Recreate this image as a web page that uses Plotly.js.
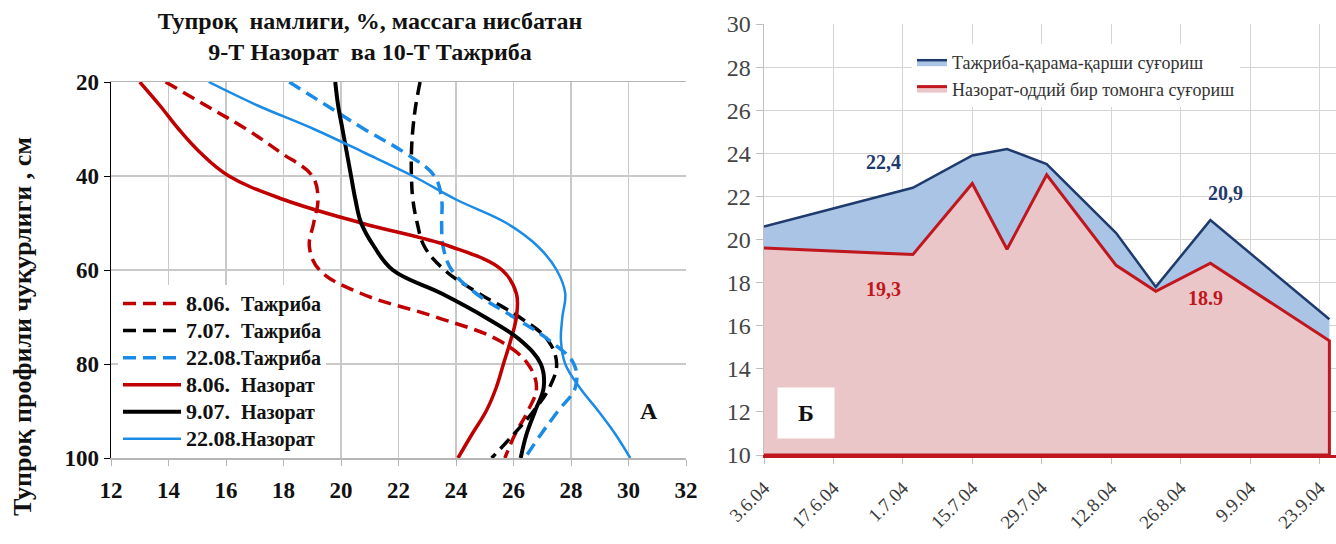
<!DOCTYPE html>
<html>
<head>
<meta charset="utf-8">
<script src="https://cdn.plot.ly/plotly-3.0.1.min.js"></script>
<style>html,body{margin:0;padding:0;background:#fff}#chart{width:1336px;height:544px}</style>
</head>
<body>
<div id="chart"></div>
<script>
// ---------- Panel A: soil moisture profiles ----------
const depth = [20,25,30,35,40,45,50,55,60,65,70,75,80,85,90,95,100];
const tazh0806 = [13.9,15.3,16.7,17.9,19.0,19.2,19.05,18.9,19.25,20.7,23.3,25.5,26.5,26.8,26.5,26.05,25.7];
const tazh0707 = [22.75,22.6,22.5,22.45,22.45,22.5,22.65,22.9,23.6,24.8,26.2,27.2,27.5,27.25,26.7,26.0,25.24];
const tazh2208 = [18.2,19.5,20.8,22.2,23.25,23.5,23.5,23.55,23.85,24.7,26.0,27.25,28.1,28.15,27.55,26.95,26.4];
const naz0806  = [13.0,13.7,14.35,15.1,16.1,18.0,20.7,23.8,25.6,26.1,26.1,25.9,25.65,25.4,25.05,24.55,24.07];
const naz0907  = [19.8,19.9,20.05,20.2,20.35,20.5,20.7,21.15,21.8,23.5,25.0,26.25,26.95,27.05,26.75,26.45,26.25];
const naz2208  = [15.4,17.1,19.05,20.8,22.5,24.0,25.75,26.85,27.5,27.8,27.7,27.65,27.8,28.3,28.95,29.55,30.06];
const profileDates = ['8.06.','7.07.','22.08.','8.06.','9.07.','22.08.'];
const profileKinds = ['Тажриба','Тажриба','Тажриба','Назорат','Назорат','Назорат'];
const xTicksA = [12,14,16,18,20,22,24,26,28,30,32];
const yTicksA = [20,40,60,80,100];

// ---------- Panel Б: moisture over season ----------
const dates = ['2004-06-03','2004-07-03','2004-07-15','2004-07-22','2004-07-30','2004-08-13','2004-08-21','2004-09-01','2004-09-25'];
const tajriba = [20.6,22.4,23.9,24.2,23.5,20.3,17.8,20.9,16.3];
const nazorat = [19.6,19.3,22.6,19.55,23.0,18.8,17.6,18.9,15.3];
const seasonNames = ['Тажриба-қарама-қарши суғориш','Назорат-оддий бир томонга суғориш'];
const dateTickVals = ['2004-06-03','2004-06-17','2004-07-01','2004-07-15','2004-07-29','2004-08-12','2004-08-26','2004-09-09','2004-09-23'];
const dateTickText = ['3.6.04','17.6.04','1.7.04','15.7.04','29.7.04','12.8.04','26.8.04','9.9.04','23.9.04'];
const yRangeB = [10,30];

const SERIF = 'Liberation Serif, Times New Roman, serif';
const RED = '#C00000', BLK = '#000000', BLU = '#1a8be6';
const DASH = '13px,7px';

function legendName(i){
  const d = profileDates[i];
  const pad = d.length < 6 ? '\u00a0\u00a0' : '';
  return '<span style="font-size:22px">' + d + pad + '</span><span style="font-size:20px">' + profileKinds[i] + '</span>';
}
function prof(x, i, color, width, dash){
  return {x:x, y:depth, name:legendName(i), type:'scatter', mode:'lines',
    line:{color:color, width:width, dash:dash, shape:'spline', smoothing:1.1},
    xaxis:'x', yaxis:'y', legend:'legend', hoverinfo:'skip'};
}
const traces = [
  prof(tazh0806, 0, RED, 3.5, DASH),
  prof(tazh0707, 1, BLK, 3.5, DASH),
  prof(tazh2208, 2, BLU, 3.5, DASH),
  prof(naz0806,  3, RED, 3.5, 'solid'),
  prof(naz0907,  4, BLK, 4, 'solid'),
  prof(naz2208,  5, BLU, 2.5, 'solid')
];

// Blue area (experiment), filled down to the axis base
traces.push({x:dates, y:tajriba, name:seasonNames[0], type:'scatter', mode:'lines',
  fill:'tozeroy', fillcolor:'#AAC4E6', line:{color:'#1F3B6E', width:2.5},
  xaxis:'x2', yaxis:'y2', legend:'legend2', hoverinfo:'skip'});
// Red area (control): closed shape down to the base of the value axis
const redX = [dates[0], dates[dates.length-1]].concat(dates.slice().reverse());
const redY = [yRangeB[0], yRangeB[0]].concat(nazorat.slice().reverse());
traces.push({x:redX, y:redY, name:seasonNames[1], type:'scatter', mode:'lines',
  fill:'toself', fillcolor:'#EBC6C8', line:{color:'#C0161E', width:3},
  xaxis:'x2', yaxis:'y2', legend:'legend2', hoverinfo:'skip'});

const W = 1336, H = 544;
const px = v => v / W, py = v => 1 - v / H;

const layout = {
  width: W, height: H,
  margin: {l:0, r:0, t:0, b:0},
  paper_bgcolor: '#fff', plot_bgcolor: '#fff',
  showlegend: true,
  title: {text: 'Тупроқ  намлиги, %, массага нисбатан<br>9-Т Назорат  ва 10-Т Тажриба',
    x: px(370), xanchor:'center', xref:'paper', y: py(29), yanchor:'middle', yref:'container',
    font:{family:SERIF, size:24, color:'#111', weight:'bold'}},
  xaxis: {domain:[px(111), px(686)], range:[12,32], tickvals:xTicksA, anchor:'y',
    showgrid:true, gridcolor:'#c9c9c9', gridwidth:1.5,
    showline:true, linecolor:'#b5b5b5', linewidth:1.5, mirror:true,
    ticks:'outside', ticklen:6, tickcolor:'#b5b5b5', ticklabelstandoff:5,
    tickfont:{family:SERIF, size:23, color:'#111', weight:'bold'}, zeroline:false, fixedrange:true},
  yaxis: {domain:[py(458), py(82)], range:[100,20], tickvals:yTicksA, anchor:'x',
    showgrid:true, gridcolor:'#c9c9c9', gridwidth:1.5,
    showline:true, linecolor:'#000', linewidth:1.5,
    ticks:'outside', ticklen:6, tickcolor:'#000',
    tickfont:{family:SERIF, size:23, color:'#111', weight:'bold'}, zeroline:false, fixedrange:true},
  xaxis2: {domain:[px(764), 1], type:'date', range:['2004-06-03','2004-09-26 08:00'], anchor:'y2',
    tickvals:dateTickVals, ticktext:dateTickText, tickangle:-45,
    showgrid:true, gridcolor:'#d4d4d4', gridwidth:1,
    showline:true, linecolor:'#C0161E', linewidth:2.5,
    ticks:'outside', ticklen:6, tickcolor:'#c0c0c0', ticklabelstandoff:6,
    tickfont:{family:SERIF, size:19, color:'#3a3a3a'}, zeroline:false, fixedrange:true},
  yaxis2: {domain:[py(455), py(24)], range:yRangeB, dtick:2, anchor:'x2',
    showgrid:true, gridcolor:'#d4d4d4', gridwidth:1,
    showline:true, linecolor:'#c0c0c0', linewidth:1.5,
    ticks:'outside', ticklen:7, tickcolor:'#c0c0c0',
    tickfont:{family:SERIF, size:24, color:'#444'}, zeroline:false, fixedrange:true},
  legend: {x:px(118), y:py(285), xanchor:'left', yanchor:'top', bgcolor:'#fff',
    borderwidth:0, itemwidth:58, tracegroupgap:0,
    font:{family:SERIF, size:18.5, color:'#111', weight:'bold'}},
  legend2: {x:px(912), y:py(44), xanchor:'left', yanchor:'top', bgcolor:'#fff',
    borderwidth:0, itemwidth:30,
    font:{family:SERIF, size:18, color:'#333'}},
  annotations: [
    {text:'Тупроқ профили чуқурлиги , см', textangle:-90, xref:'paper', yref:'paper',
      x:px(22), y:py(327), xanchor:'center', yanchor:'middle', showarrow:false,
      font:{family:SERIF, size:26, color:'#111', weight:'bold'}},
    {text:'<b>А</b>', xref:'x', yref:'y', x:30.7, y:90, showarrow:false,
      bgcolor:'#fff', font:{family:SERIF, size:24, color:'#111'}},
    {text:'<b>Б</b>', xref:'x2', yref:'y2', x:'2004-06-11 12:00', y:11.95, showarrow:false,
      bgcolor:'#fff', width:54, height:48, font:{family:SERIF, size:24, color:'#111'}},
    {text:'22,4', xref:'x2', yref:'y2', x:'2004-06-27', y:23.6, showarrow:false,
      font:{family:SERIF, size:20, color:'#1F3B6E', weight:'bold'}},
    {text:'19,3', xref:'x2', yref:'y2', x:'2004-06-27', y:17.7, showarrow:false,
      font:{family:SERIF, size:20, color:'#C0161E', weight:'bold'}},
    {text:'20,9', xref:'x2', yref:'y2', x:'2004-09-04', y:22.15, showarrow:false,
      font:{family:SERIF, size:20, color:'#1F3B6E', weight:'bold'}},
    {text:'18.9', xref:'x2', yref:'y2', x:'2004-08-31', y:17.3, showarrow:false,
      font:{family:SERIF, size:20, color:'#C0161E', weight:'bold'}}
  ]
};

Plotly.newPlot('chart', traces, layout, {staticPlot:true, displayModeBar:false});
</script>
</body>
</html>
